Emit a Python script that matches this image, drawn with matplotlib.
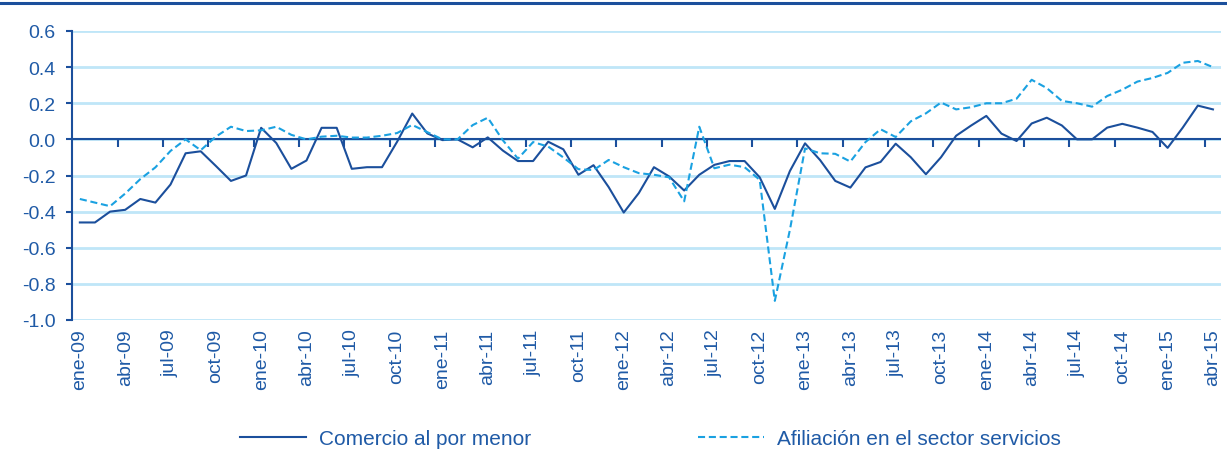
import numpy as np
import matplotlib
matplotlib.use("Agg")
import matplotlib.pyplot as plt
from matplotlib.lines import Line2D

plt.rcParams['font.family'] = ['Liberation Sans', 'DejaVu Sans']

# monthly data, ene-09 .. abr-15
comercio = [-0.46, -0.46, -0.40, -0.39, -0.33, -0.35, -0.25, -0.077, -0.066, -0.147,
            -0.23, -0.20, 0.064, -0.02, -0.163, -0.117, 0.064, 0.064, -0.163, -0.154,
            -0.154, -0.013, 0.143, 0.033, -0.004, 0.0, -0.044, 0.011, -0.062, -0.12,
            -0.12, -0.013, -0.055, -0.196, -0.143, -0.264, -0.405, -0.297, -0.154, -0.205,
            -0.283, -0.196, -0.141, -0.12, -0.12, -0.21, -0.385, -0.175, -0.022, -0.115,
            -0.23, -0.267, -0.155, -0.125, -0.024, -0.099, -0.193, -0.099, 0.02, 0.077,
            0.13, 0.032, -0.009, 0.088, 0.12, 0.077, 0.0, 0.0, 0.065, 0.086,
            0.065, 0.041, -0.047, 0.065, 0.187, 0.166]
afiliacion = [-0.33, -0.35, -0.37, -0.30, -0.22, -0.155, -0.064, 0.0, -0.06, 0.015,
              0.07, 0.046, 0.05, 0.07, 0.025, 0.0, 0.015, 0.02, 0.01, 0.01,
              0.02, 0.035, 0.08, 0.04, 0.0, 0.0, 0.079, 0.12, -0.005, -0.107,
              -0.015, -0.04, -0.1, -0.165, -0.17, -0.114, -0.154, -0.187, -0.196, -0.21,
              -0.343, 0.07, -0.16, -0.14, -0.154, -0.224, -0.894, -0.50, -0.05, -0.077,
              -0.08, -0.123, -0.015, 0.056, 0.013, 0.1, 0.144, 0.204, 0.166, 0.178,
              0.2, 0.2, 0.225, 0.33, 0.284, 0.213, 0.2, 0.181, 0.24, 0.275,
              0.32, 0.34, 0.368, 0.424, 0.434, 0.40]
tick_labels = ['ene-09', 'abr-09', 'jul-09', 'oct-09', 'ene-10', 'abr-10', 'jul-10', 'oct-10',
               'ene-11', 'abr-11', 'jul-11', 'oct-11', 'ene-12', 'abr-12', 'jul-12', 'oct-12',
               'ene-13', 'abr-13', 'jul-13', 'oct-13', 'ene-14', 'abr-14', 'jul-14', 'oct-14',
               'ene-15', 'abr-15']

dark = '#1b4f9c'
light = '#1aa1e1'
txt = '#1f5aa6'
grid = '#bfe6f8'

x = np.arange(len(comercio))

fig = plt.figure(figsize=(12.27, 4.56), dpi=100)
ax = fig.add_axes([72.3/1227, 1-321/456, (1220.5-72.3)/1227, (321-32)/456])

ax.plot(x, comercio, color=dark, lw=1.5, label='Comercio al por menor', zorder=3)
ax.plot(x, afiliacion, color=light, lw=1.5, dashes=(3.4, 1.8), label='Afiliación en el sector servicios', zorder=3)

ax.set_xlim(-0.5, len(x) - 0.5)
ax.set_ylim(-1.0, 0.6)
ax.set_yticks(np.round(np.arange(-1.0, 0.61, 0.2), 1))
ax.yaxis.set_major_formatter(plt.FuncFormatter(lambda v, p: f'{v + 0.0:.1f}'.replace('-0.0', '0.0')))
ax.grid(axis='y', color=grid, lw=2)
ax.set_axisbelow(True)
for s in ['top', 'right', 'bottom']:
    ax.spines[s].set_visible(False)
ax.spines['left'].set_color(dark)
ax.spines['left'].set_linewidth(1.5)
ax.tick_params(axis='y', colors=dark, labelcolor=txt, labelsize=14, length=4, width=1.5, pad=8)

# category labels at the bottom
ax.set_xticks(x[::3])
ax.set_xticklabels(tick_labels, rotation=90)
ax.tick_params(axis='x', length=0, labelcolor=txt, labelsize=14, pad=6)

# zero axis with tick marks between categories
ax.axhline(0, color=dark, lw=1.5, zorder=2)
tick_pos = np.arange(2.5, len(x) - 0.5, 3)
ax.plot(tick_pos, np.zeros_like(tick_pos), ls='none', marker=3, ms=5.5, mew=1.5, color=dark, zorder=2)

# top border line
fig.add_artist(Line2D([0, 1], [1-4/456, 1-4/456], transform=fig.transFigure, color=dark, lw=2.2))

leg = fig.legend(ax.get_lines()[:2], [l.get_label() for l in ax.get_lines()[:2]],
                 loc='center', bbox_to_anchor=(0.53, 1-440/456), ncol=2, frameon=False,
                 fontsize=15, handlelength=3.2, handletextpad=0.6, columnspacing=8)
for t in leg.get_texts():
    t.set_color(txt)

fig.savefig('out.png', dpi=100)
